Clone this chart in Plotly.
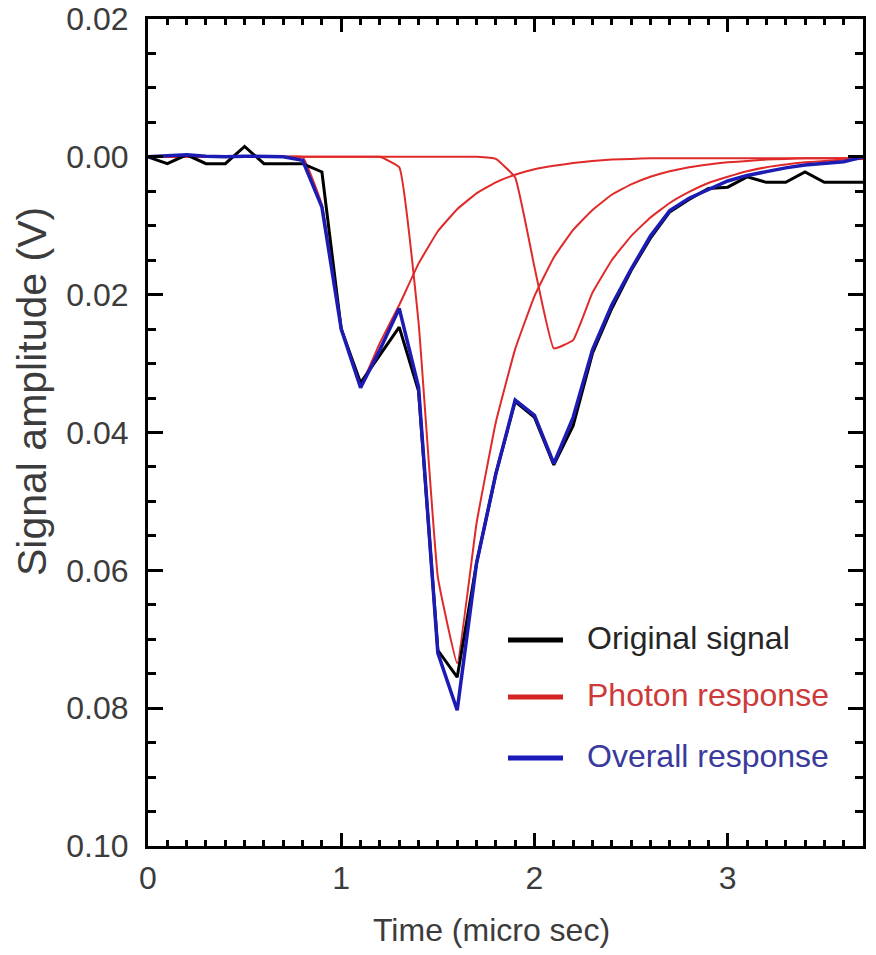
import plotly.graph_objects as go

# ---- data ----
time_us = [0.0, 0.1, 0.2, 0.3, 0.4, 0.5, 0.6, 0.7, 0.8, 0.9,
           1.0, 1.1, 1.2, 1.3, 1.4, 1.5, 1.6, 1.7, 1.8, 1.9,
           2.0, 2.1, 2.2, 2.3, 2.4, 2.5, 2.6, 2.7, 2.8, 2.9,
           3.0, 3.1, 3.2, 3.3, 3.4, 3.5, 3.6, 3.7]

original_signal = [0.0, -0.001, 0.0003, -0.001, -0.001, 0.0015, -0.001, -0.001, -0.001, -0.0022,
                   -0.025, -0.0328, -0.0288, -0.0247, -0.034, -0.0716, -0.0755, -0.059, -0.046, -0.0355,
                   -0.0378, -0.0447, -0.039, -0.0285, -0.022, -0.0165, -0.0118, -0.008, -0.0062, -0.0046,
                   -0.0044, -0.0029, -0.0037, -0.0037, -0.0022, -0.0037, -0.0037, -0.0037]

overall_response = [0.0, 0.0002, 0.0003, 0.0001, 0.0, 0.0001, 0.0001, 0.0, -0.0005, -0.0073,
                    -0.025, -0.0335, -0.028, -0.022, -0.0334, -0.072, -0.0803, -0.059, -0.046, -0.0353,
                    -0.0375, -0.0445, -0.0378, -0.028, -0.0215, -0.0163, -0.0115, -0.0078, -0.006, -0.0047,
                    -0.0035, -0.0027, -0.0021, -0.0016, -0.0012, -0.0009, -0.0007, 0.0]

photon_1 = [0.0, 0.0, 0.0, 0.0, 0.0, 0.0, 0.0, 0.0, 0.0, -0.007,
            -0.0247, -0.033, -0.027, -0.0215, -0.0155, -0.0108, -0.0076, -0.0053, -0.0037, -0.0026,
            -0.0018, -0.0013, -0.0009, -0.0006, -0.0004, -0.0003, -0.0002, -0.0002, -0.0002, -0.0002,
            -0.0002, -0.0002, -0.0002, -0.0002, -0.0002, -0.0002, -0.0002, -0.0002]

photon_2 = [0.0, 0.0, 0.0, 0.0, 0.0, 0.0, 0.0, 0.0, 0.0, 0.0,
            0.0, 0.0, 0.0, -0.0015, -0.024, -0.061, -0.0735, -0.0532, -0.0385, -0.0279,
            -0.0202, -0.0146, -0.0106, -0.0077, -0.0055, -0.004, -0.0029, -0.0021, -0.0015, -0.0011,
            -0.0008, -0.0006, -0.0004, -0.0003, -0.0002, -0.0002, -0.0002, -0.0002]

photon_3 = [0.0, 0.0, 0.0, 0.0, 0.0, 0.0, 0.0, 0.0, 0.0, 0.0,
            0.0, 0.0, 0.0, 0.0, 0.0, 0.0, 0.0, 0.0, -0.0003, -0.003,
            -0.016, -0.0278, -0.0266, -0.0197, -0.015, -0.0115, -0.0088, -0.0067, -0.0051, -0.0038,
            -0.0029, -0.0021, -0.0015, -0.0011, -0.0008, -0.0006, -0.0004, -0.0003]

y_tickvals = [0.02, 0.0, -0.02, -0.04, -0.06, -0.08, -0.10]
y_ticktext = ["0.02", "0.00", "0.02", "0.04", "0.06", "0.08", "0.10"]
x_tickvals = [0, 1, 2, 3]
x_ticktext = ["0", "1", "2", "3"]

legend_labels = ["Original signal", "Photon response", "Overall response"]

# ---- styles ----
RED = "#e02a2a"
BLACK = "#000000"
BLUE = "#1c1cb4"
FONT = "Liberation Sans, Arial, sans-serif"
TXT = "#3c3c3c"
FS = 32

fig = go.Figure()
for p in (photon_1, photon_2, photon_3):
    fig.add_trace(go.Scatter(x=time_us, y=p, mode="lines", line_shape="spline",
                             line=dict(color=RED, width=2, smoothing=0.3),
                             showlegend=False, hoverinfo="skip"))
fig.add_trace(go.Scatter(x=time_us, y=original_signal, mode="lines",
                         line=dict(color=BLACK, width=3), showlegend=False))
fig.add_trace(go.Scatter(x=time_us, y=overall_response, mode="lines",
                         line=dict(color=BLUE, width=3.5), showlegend=False))

L, R, T, B = 148, 13, 19, 109
W, H = 876, 955
pw, ph = W - L - R, H - T - B

def px_x(px):
    return (px - L) / pw

def px_y(py):
    return (H - B - py) / ph

fig.update_layout(
    width=W, height=H,
    margin=dict(l=L, r=R, t=T, b=B, pad=0, autoexpand=False),
    paper_bgcolor="white", plot_bgcolor="white",
    showlegend=False,
    font=dict(family=FONT, size=FS, color=TXT),
)

fig.update_xaxes(
    range=[0, 3.7], tickvals=x_tickvals, ticktext=x_ticktext, automargin=False,
    showline=True, linecolor="black", linewidth=3, mirror="ticks",
    ticks="inside", ticklen=13, tickwidth=3, tickcolor="black",
    minor=dict(ticks="inside", dtick=0.1, ticklen=6, tickwidth=2.5, tickcolor="black"),
    showgrid=False, zeroline=False,
    tickfont=dict(family=FONT, size=FS, color=TXT),
    ticklabelstandoff=2,
)
fig.update_yaxes(
    range=[-0.10, 0.02], tickvals=y_tickvals, ticktext=y_ticktext, automargin=False,
    showline=True, linecolor="black", linewidth=3, mirror="ticks",
    ticks="inside", ticklen=15, tickwidth=3, tickcolor="black",
    minor=dict(ticks="inside", dtick=0.005, ticklen=8, tickwidth=3, tickcolor="black"),
    showgrid=False, zeroline=False,
    tickfont=dict(family=FONT, size=FS, color=TXT),
    ticklabelstandoff=10,
)

# axis titles
fig.add_annotation(text="Time (micro sec)", xref="paper", yref="paper",
                   x=px_x(491), y=px_y(930), xanchor="center", yanchor="middle",
                   showarrow=False, font=dict(family=FONT, size=FS, color=TXT))
fig.add_annotation(text="Signal amplitude (V)", xref="paper", yref="paper",
                   x=px_x(32), y=px_y(392), xanchor="center", yanchor="middle",
                   textangle=-90, showarrow=False,
                   font=dict(family=FONT, size=41, color=TXT))

# custom legend
key_colors = [BLACK, "#d42424", "#1a1ab8"]
text_colors = ["#262626", "#cc3a3a", "#3a3a9c"]
key_y = [640, 697, 758]
for lab, kc, tc, ky in zip(legend_labels, key_colors, text_colors, key_y):
    fig.add_shape(type="line", xref="paper", yref="paper",
                  x0=px_x(508), x1=px_x(563), y0=px_y(ky), y1=px_y(ky),
                  line=dict(color=kc, width=5))
    fig.add_annotation(text=lab, xref="paper", yref="paper",
                       x=px_x(585), y=px_y(ky - 2), xanchor="left", yanchor="middle",
                       showarrow=False, font=dict(family=FONT, size=FS, color=tc))

fig.write_html("out.html",
               config={"displayModeBar": False},
               post_script="document.body.style.margin='0';document.body.style.padding='0';")
